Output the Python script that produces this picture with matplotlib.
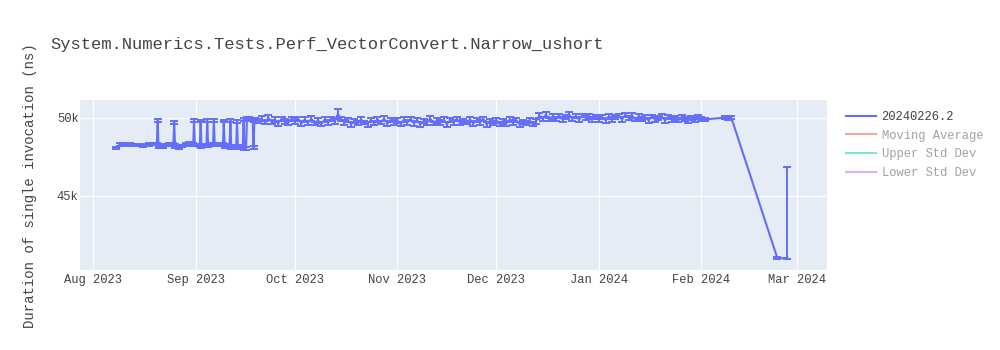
import matplotlib
matplotlib.use("Agg")
import matplotlib.pyplot as plt
import matplotlib.dates as mdates
from matplotlib.lines import Line2D
import numpy as np
import pandas as pd

plt.rcParams['font.family'] = ['Liberation Mono', 'DejaVu Sans Mono', 'DejaVu Sans']

title = "System.Numerics.Tests.Perf_VectorConvert.Narrow_ushort"
ylabel = "Duration of single invocation (ns)"
series_name = "20240226.2"
legend_extra = ["Moving Average", "Upper Std Dev", "Lower Std Dev"]
legend_extra_colors = ["#EF553B", "#00CC96", "#AB63FA"]

# early period: several runs on some days (ns)
early_times = [
    "2023-08-08", "2023-08-09", "2023-08-10", "2023-08-11", "2023-08-12",
    "2023-08-13", "2023-08-14", "2023-08-15", "2023-08-16", "2023-08-17",
    "2023-08-18", "2023-08-19", "2023-08-20 06:00", "2023-08-20 12:00", "2023-08-20 18:00",
    "2023-08-21", "2023-08-22", "2023-08-23", "2023-08-24", "2023-08-25 06:00",
    "2023-08-25 12:00", "2023-08-25 18:00", "2023-08-26", "2023-08-27", "2023-08-28",
    "2023-08-29", "2023-08-30", "2023-08-31 06:00", "2023-08-31 12:00", "2023-08-31 18:00",
    "2023-09-01", "2023-09-02 06:00", "2023-09-02 12:00", "2023-09-02 18:00", "2023-09-03",
    "2023-09-04 06:00", "2023-09-04 12:00", "2023-09-04 18:00", "2023-09-05", "2023-09-06 06:00",
    "2023-09-06 12:00", "2023-09-06 18:00", "2023-09-07", "2023-09-08", "2023-09-09 06:00",
    "2023-09-09 12:00", "2023-09-09 18:00", "2023-09-10", "2023-09-11 06:00", "2023-09-11 12:00",
    "2023-09-11 18:00", "2023-09-12", "2023-09-13 06:00", "2023-09-13 12:00", "2023-09-13 18:00",
    "2023-09-14", "2023-09-15 06:00", "2023-09-15 12:00", "2023-09-15 18:00", "2023-09-16 06:00",
    "2023-09-16 12:00", "2023-09-16 18:00", "2023-09-17", "2023-09-18 06:00", "2023-09-18 12:00",
    "2023-09-18 18:00", "2023-09-19", "2023-09-20",
]
early_vals = [
    48080, 48300, 48310, 48290, 48300,
    48270, 48250, 48260, 48240, 48280,
    48300, 48320, 48330, 49830, 48200,
    48150, 48150, 48250, 48280, 48300,
    49720, 48200, 48200, 48100, 48200,
    48300, 48350, 48300, 49850, 48250,
    48250, 48250, 49800, 48200, 48200,
    48220, 49820, 48250, 48250, 48280,
    49850, 48300, 48300, 48280, 48280,
    49800, 48200, 48200, 48200, 49860,
    48100, 48100, 48120, 49750, 48150,
    48150, 48150, 49900, 48050, 48050,
    49950, 49900, 49950, 49900, 48100,
    49850, 49900, 49800,
]
early_err = [
    60, 80, 70, 60, 80,
    70, 60, 70, 80, 60,
    70, 80, 90, 90, 110,
    80, 70, 60, 90, 80,
    90, 100, 90, 80, 70,
    80, 90, 80, 90, 80,
    80, 90, 90, 100, 80,
    90, 90, 100, 80, 90,
    90, 100, 80, 90, 90,
    90, 100, 110, 90, 90,
    100, 110, 100, 90, 100,
    110, 100, 100, 110, 110,
    110, 120, 110, 100, 100,
    100, 110, 120,
]

# daily runs from 2023-09-21 through 2024-02-02 (ns)
daily_start = "2023-09-21"
sep_vals = [49950, 49700, 50000, 49750, 49900, 49650, 49950, 49800, 49700, 49950]
oct_vals = [49750, 49950, 49650, 49900, 49700, 49950, 49650, 49850, 49600, 49900,
            49700, 49950, 49750, 50250, 49950, 49700, 49850, 49600, 49800, 49650,
            49900, 49700, 49600, 49850, 49650, 49900, 49700, 49950, 49650, 49850,
            49700]
nov_vals = [49850, 49600, 49900, 49700, 49950, 49650, 49850, 49600, 49800, 49700,
            49950, 49650, 49850, 49700, 49900, 49600, 49850, 49700, 49950, 49650,
            49800, 49700, 49900, 49650, 49850, 49700, 49950, 49600, 49800, 49700]
dec_vals = [49850, 49600, 49800, 49650, 49900, 49700, 49850, 49600, 49750, 49650,
            49850, 49600, 49800, 50150, 49950, 50200, 49900, 50100, 49950, 50150,
            49900, 50050, 50200, 49950, 50100, 49900, 50150, 50000, 50100, 49900,
            50050]
jan_vals = [49900, 50050, 49850, 50100, 49900, 50050, 50150, 49900, 50200, 50000,
            50150, 49900, 50100, 49950, 50050, 49850, 50100, 49900, 50000, 50100,
            49850, 50050, 49900, 50000, 49850, 50050, 49950, 49850, 50000, 49900,
            50050]
feb_vals = [49950, 49900]

sep_err = [150, 120, 160, 140, 130, 150, 120, 160, 140, 130]
oct_err = [150, 120, 160, 140, 130, 150, 120, 160, 140, 130,
           150, 120, 160, 350, 130, 150, 120, 160, 140, 130,
           150, 120, 160, 140, 130, 150, 120, 160, 140, 130,
           150]
nov_err = [150, 120, 160, 140, 130, 150, 120, 160, 140, 130,
           150, 120, 160, 140, 130, 150, 120, 160, 140, 130,
           150, 120, 160, 140, 130, 150, 120, 160, 140, 130]
dec_err = [150, 120, 160, 140, 130, 150, 120, 160, 140, 130,
           150, 120, 160, 140, 130, 150, 120, 160, 140, 130,
           150, 120, 160, 140, 130, 150, 120, 160, 140, 130,
           150]
jan_err = [150, 120, 160, 140, 130, 150, 120, 160, 140, 130,
           150, 120, 160, 140, 130, 150, 120, 160, 140, 130,
           150, 120, 160, 140, 130, 150, 120, 160, 140, 130,
           150]
feb_err = [120, 100]

# later, sparser runs
tail_dates = ["2024-02-08", "2024-02-09", "2024-02-10", "2024-02-24", "2024-02-27"]
tail_vals = [50020, 49980, 50050, 41000, 41020]
tail_err_low = [90, 100, 90, 60, 60]
tail_err_high = [90, 100, 90, 60, 5830]

daily_vals = sep_vals + oct_vals + nov_vals + dec_vals + jan_vals + feb_vals
daily_err = sep_err + oct_err + nov_err + dec_err + jan_err + feb_err
daily_dates = pd.date_range(daily_start, periods=len(daily_vals), freq="D")

dates = (list(pd.to_datetime(early_times, format="mixed")) + list(daily_dates)
         + list(pd.to_datetime(tail_dates)))
values = np.array(early_vals + daily_vals + tail_vals, dtype=float)
err_low = np.array(early_err + daily_err + tail_err_low, dtype=float)
err_high = np.array(early_err + daily_err + tail_err_high, dtype=float)

color = "#636EFA"
fig = plt.figure(figsize=(10, 3.5), dpi=100)
ax = fig.add_axes([0.08, 1 - 270 / 350, 0.747, 170 / 350])
ax.set_facecolor("#E5ECF6")
for s in ax.spines.values():
    s.set_visible(False)

ax.errorbar(dates, values, yerr=[err_low, err_high], color=color, lw=1.5,
            elinewidth=1.4, capsize=3, capthick=1.4, zorder=3)

ax.set_xlim(pd.Timestamp("2023-07-28"), pd.Timestamp("2024-03-10"))
ax.set_ylim(40250, 51150)
ax.xaxis.set_major_locator(mdates.MonthLocator())
ax.xaxis.set_major_formatter(mdates.DateFormatter("%b %Y"))
ax.set_yticks([45000, 50000])
ax.set_yticklabels(["45k", "50k"])
ax.grid(True, color="white", lw=0.8, zorder=0)
ax.set_axisbelow(True)
ax.tick_params(axis="both", length=0, labelsize=8.7, colors="#444444")
ax.tick_params(axis="x", pad=3)
ax.tick_params(axis="y", pad=1)

fig.text(0.05, 1 - 45 / 350, title, fontsize=12.3, color="#444444", va="center", ha="left")
fig.text(0.030, 1 - 186 / 350, ylabel, fontsize=10.1, color="#444444", rotation=90,
         va="center", ha="center")

handles = [Line2D([], [], color=color, lw=1.5)]
labels = [series_name]
for c, lab in zip(legend_extra_colors, legend_extra):
    handles.append(Line2D([], [], color=c, lw=1.5, alpha=0.5))
    labels.append(lab)
leg = fig.legend(handles, labels, loc="upper left", bbox_to_anchor=(0.846, 1 - 111 / 350),
                 frameon=False, fontsize=8.7, handlelength=2.5, handletextpad=0.45,
                 labelspacing=0.55, borderaxespad=0, borderpad=0)
for i, t in enumerate(leg.get_texts()):
    t.set_color("#444444" if i == 0 else "#A2A2A2")

fig.savefig("out.png", dpi=100)
